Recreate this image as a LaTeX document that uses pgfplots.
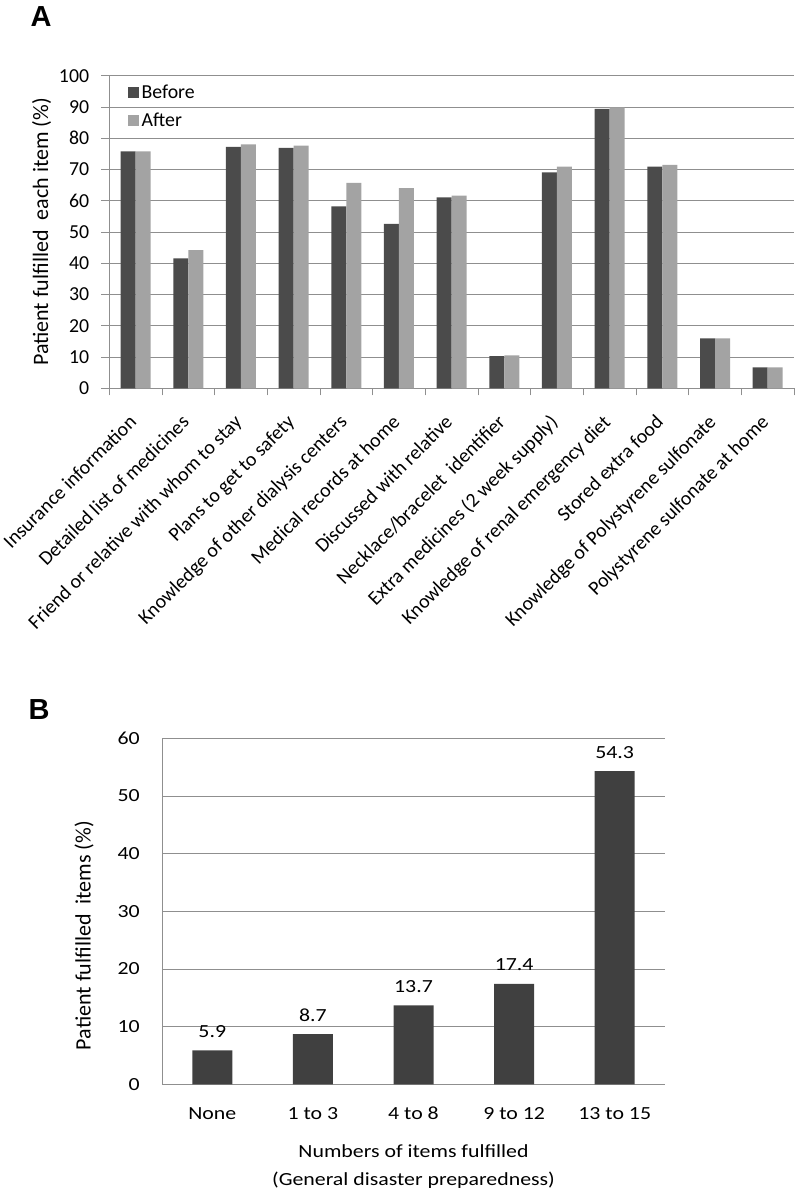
\documentclass[border=0pt]{standalone}
\usepackage{pgfplots}
\pgfplotsset{compat=1.18}
\usepackage{fontspec}
\setmainfont{Carlito}
\newfontfamily\widef[FakeStretch=1.18]{Carlito}
\newfontfamily\arialf{Liberation Sans}
\newcommand\ft{\fontsize{19.8}{23}\selectfont}
\newcommand\fc{\fontsize{19.9}{24}\selectfont}
\newcommand\fl{\fontsize{22}{26}\selectfont}
\newcommand\fw{\widef\fontsize{18.5}{28}\selectfont}
\definecolor{barA}{HTML}{4B4B4B}
\definecolor{barB}{HTML}{A3A3A3}
\definecolor{barC}{HTML}{404040}
\definecolor{gridc}{HTML}{8F8F8F}
\pgfplotsset{sqlegend/.style={legend image code/.code={\fill[##1] (0pt,-5.5pt) rectangle (11pt,5.5pt);}}}
\begin{document}
\begin{tikzpicture}
\useasboundingbox (0pt,0pt) rectangle (797pt,-1190pt);
\node[font=\arialf\bfseries\fontsize{29}{30}\selectfont] at (41pt,-17pt) {A};
\node[font=\arialf\bfseries\fontsize{29}{30}\selectfont] at (39pt,-710pt) {B};
\begin{axis}[
  at={(109.3pt,-388.3pt)}, anchor=south west,
  width=684.7pt, height=312.6pt, scale only axis,
  ybar=0pt, bar width=15pt,
  xmin=-0.5, xmax=12.5, ymin=0, ymax=100,
  ytick={0,10,...,100},
  xtick={0,...,12},
  xticklabels={Insurance information,Detailed list of medicines,Friend or relative with whom to stay,Plans to get to safety,Knowledge of other dialysis centers,Medical records at home,Discussed with relative,Necklace/bracelet\ \ identifier,Extra medicines (2 week supply),Knowledge of renal emergency diet,Stored extra food,Knowledge of Polystyrene sulfonate,Polystyrene sulfonate at home},
  minor xtick={-0.5,0.5,...,12.5},
  axis x line*=bottom, axis y line*=left,
  axis line style={gridc, line width=0.9pt},
  ymajorgrids, grid style={gridc, line width=0.9pt},
  tick align=outside,
  major tick length=8pt, minor tick length=7pt,
  major x tick style={draw=none},
  tick style={gridc, line width=0.9pt},
  /pgf/number format/assume math mode=true,
  yticklabel style={font=\ft, anchor=east, inner sep=0pt, xshift=-12pt},
  xticklabel style={font=\fc, anchor=base east, inner sep=0pt, xshift=2pt, yshift=-27pt, rotate=45},
  ylabel={Patient fulfilled\ \ each item (\%)},
  every axis y label/.style={at={(axis description cs:-0.0987,0.5)}, rotate=90, anchor=center, font=\fl},
  legend style={at={(0.0273,0.978)}, anchor=north west, draw=none, fill=none, inner sep=0pt, row sep=8pt, font=\ft, nodes={inner sep=2.5pt}},
  legend cell align=left,
]
\addplot[fill=barA, draw=none, sqlegend] coordinates {(0,75.8) (1,41.6) (2,77.2) (3,76.9) (4,58.2) (5,52.6) (6,61.1) (7,10.3) (8,69.1) (9,89.4) (10,70.9) (11,16.0) (12,6.7)};
\addplot[fill=barB, draw=none, sqlegend] coordinates {(0,75.8) (1,44.2) (2,78.0) (3,77.6) (4,65.7) (5,64.0) (6,61.6) (7,10.5) (8,70.9) (9,89.9) (10,71.5) (11,16.0) (12,6.7)};
\addlegendentry{Before}
\addlegendentry{After}
\end{axis}
\begin{axis}[
  at={(162pt,-1084.3pt)}, anchor=south west,
  width=503pt, height=346pt, scale only axis,
  ybar, bar width=40pt,
  xmin=-0.5, xmax=4.5, ymin=0, ymax=60,
  ytick={0,10,...,60},
  xtick={0,...,4},
  xticklabels={None,1 to 3,4 to 8,9 to 12,13 to 15},
  axis x line*=bottom, axis y line*=left,
  axis line style={gridc, line width=0.9pt},
  ymajorgrids, grid style={gridc, line width=0.9pt},
  major tick length=0pt,
  /pgf/number format/assume math mode=true,
  yticklabel style={font=\fw, anchor=east, inner sep=0pt, xshift=-22pt},
  xticklabel style={font=\fw, anchor=base, inner sep=0pt, yshift=-35pt},
  nodes near coords,
  every node near coord/.append style={font=\fw, anchor=base, inner sep=0pt, yshift=13pt},
  ylabel={Patient fulfilled\ \ items (\%)},
  every axis y label/.style={at={(axis description cs:-0.155,0.43)}, rotate=90, anchor=center, font=\fl},
  xlabel={Numbers of items fulfilled\\(General disaster preparedness)},
  every axis x label/.style={at={(axis description cs:0.5,0)}, anchor=north, align=center, font=\fw, inner sep=0pt, yshift=-60pt},
]
\addplot[fill=barC, draw=none] coordinates {(0,5.9) (1,8.7) (2,13.7) (3,17.4) (4,54.3)};
\end{axis}
\end{tikzpicture}
\end{document}
